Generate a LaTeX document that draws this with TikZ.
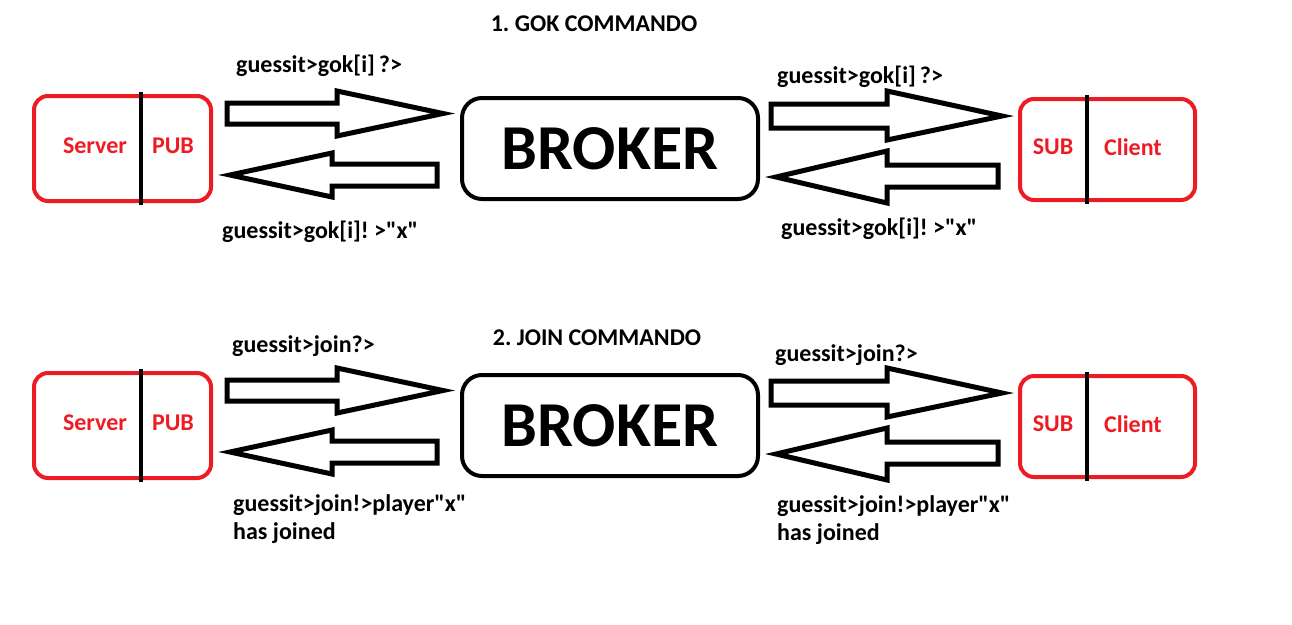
\documentclass[tikz,border=0pt]{standalone}
\usepackage{fontspec}
\setmainfont{Carlito}[Ligatures=TeXOff]
\usepackage{tikz}
\frenchspacing
\definecolor{paintred}{RGB}{237,28,36}
\tikzset{
  redbox/.style={draw=paintred, line width=4pt, rounded corners=14pt},
  splitline/.style={draw=black, line width=4pt},
  brokerbox/.style={draw, line width=4pt, rounded corners=20pt, minimum width=296pt,
    minimum height=101pt, font=\fontsize{64}{64}\selectfont\bfseries},
  fatarrow/.style={draw, line width=5pt, line join=miter, miter limit=20},
  lbl/.style={font=\fontsize{24}{28}\selectfont\bfseries, inner sep=0pt, align=left},
  redlbl/.style={lbl, text=paintred},
}

\begin{document}
\begin{tikzpicture}[x=1pt, y=-1pt]
    \useasboundingbox (0,0) rectangle (1292,624);
    % 1. gok
    \node[lbl] (title1) at (594,24) {1. GOK COMMANDO};
    \draw[redbox] (34,96) rectangle (211,201);
    \draw[splitline] (141,92) -- (141,205);
    \node[redlbl] (server1) at (95,146) {Server};
    \node[redlbl] (pub1) at (173,146) {PUB};
    \node[brokerbox] (broker1) at (610,148.5) {BROKER};
    \draw[redbox] (1020,99) rectangle (1195,200);
    \draw[splitline] (1087,95) -- (1087,204);
    \node[redlbl] (sub1) at (1053,147) {SUB};
    \node[redlbl] (client1) at (1133,147) {Client};
    \draw[fatarrow] (227,103) -- (337,103) -- (337,91) -- (443,113.5) -- (337,136) -- (337,124) -- (227,124) -- cycle;
    \draw[fatarrow] (437,164) -- (332,164) -- (332,153) -- (230,175) -- (332,197) -- (332,186) -- (437,186) -- cycle;
    \draw[fatarrow] (771,104) -- (887,104) -- (887,91) -- (1002,116) -- (887,140) -- (887,128) -- (771,128) -- cycle;
    \draw[fatarrow] (998,165) -- (887,165) -- (887,151) -- (776,177) -- (887,203) -- (887,187) -- (998,187) -- cycle;
    \node[lbl, anchor=west] (ask1l) at (236,66) {guessit>gok[i]\,?>};
    \node[lbl, anchor=west] (ans1l) at (222,232) {guessit>gok[i]! >"x"};
    \node[lbl, anchor=west] (ask1r) at (777,77) {guessit>gok[i]\,?>};
    \node[lbl, anchor=west] (ans1r) at (781,229) {guessit>gok[i]! >"x"};
    % 2. join
    \node[lbl] (title2) at (597,338) {2. JOIN COMMANDO};
    \draw[redbox] (34,373) rectangle (211,478);
    \draw[splitline] (141,369) -- (141,482);
    \node[redlbl] (server2) at (95,423) {Server};
    \node[redlbl] (pub2) at (173,423) {PUB};
    \node[brokerbox] (broker2) at (610,425.5) {BROKER};
    \draw[redbox] (1020,376) rectangle (1195,477);
    \draw[splitline] (1087,372) -- (1087,481);
    \node[redlbl] (sub2) at (1053,424) {SUB};
    \node[redlbl] (client2) at (1133,424) {Client};
    \draw[fatarrow] (227,380) -- (337,380) -- (337,368) -- (443,390.5) -- (337,413) -- (337,401) -- (227,401) -- cycle;
    \draw[fatarrow] (437,441) -- (332,441) -- (332,430) -- (230,452) -- (332,474) -- (332,463) -- (437,463) -- cycle;
    \draw[fatarrow] (771,381) -- (887,381) -- (887,368) -- (1002,393) -- (887,417) -- (887,405) -- (771,405) -- cycle;
    \draw[fatarrow] (998,442) -- (887,442) -- (887,428) -- (776,454) -- (887,480) -- (887,464) -- (998,464) -- cycle;
    \node[lbl, anchor=west] (ask2l) at (232,346) {guessit>join?>};
    \node[lbl, anchor=west] (ans2l) at (233,519) {guessit>join!>player"x"\\has joined};
    \node[lbl, anchor=west] (ask2r) at (775,355) {guessit>join?>};
    \node[lbl, anchor=west] (ans2r) at (777,520) {guessit>join!>player"x"\\has joined};
\end{tikzpicture}
\end{document}
